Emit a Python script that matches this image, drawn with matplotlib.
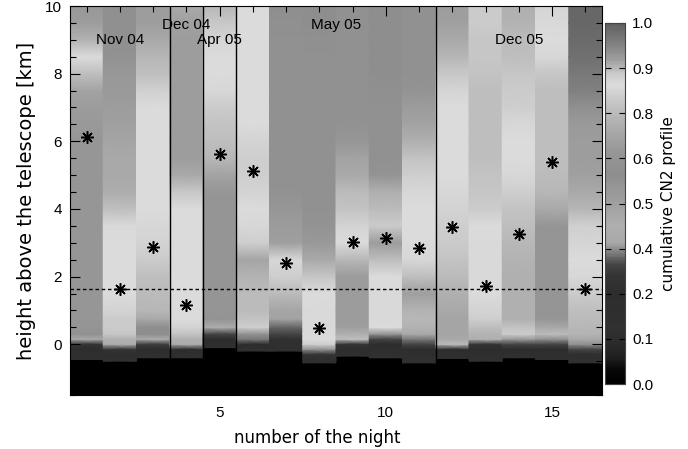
import numpy as np
import matplotlib
matplotlib.use("Agg")
import matplotlib.pyplot as plt
from matplotlib.colors import LinearSegmentedColormap
from matplotlib.ticker import FixedLocator, MultipleLocator

plt.rcParams['font.family'] = ['Liberation Sans', 'DejaVu Sans']

# ---- data -------------------------------------------------------------
nights = list(range(1, 17))

# height grid of the profiles [km above the telescope]
levels_km = [-0.45, -0.3, -0.15, 0.0, 0.15, 0.3, 0.5, 0.75,
             1.0, 1.5, 2.0, 2.5, 3.0, 3.5, 4.0, 4.5, 5.0, 5.5,
             6.0, 6.5, 7.0, 7.5, 8.0, 8.5, 9.0, 9.5, 10.0]

# lowest height of each night's profile
base_km = [-0.45, -0.5, -0.4, -0.4, -0.1, -0.2, -0.2, -0.55,
           -0.35, -0.4, -0.55, -0.42, -0.5, -0.4, -0.45, -0.55]

nan = float('nan')
# cumulative CN2 profile of each night on levels_km
cn2_night01 = [0.15, 0.2, 0.25, 0.3, 0.4, 0.6, 0.63, 0.64, 0.64, 0.64, 0.64, 0.64, 0.64, 0.64,
               0.64, 0.64, 0.64, 0.64, 0.64, 0.65, 0.66, 0.68, 0.76, 0.83, 0.88, 0.9, 0.91]
cn2_night02 = [0.15, 0.2, 0.3, 0.45, 0.72, 0.78, 0.79, 0.79, 0.81, 0.83, 0.83, 0.83, 0.83, 0.835,
               0.87, 0.885, 0.89, 0.89, 0.893, 0.895, 0.9, 0.905, 0.91, 0.915, 0.918, 0.92, 0.92]
cn2_night03 = [nan, 0.2, 0.25, 0.32, 0.42, 0.58, 0.58, 0.7, 0.74, 0.75, 0.76, 0.79, 0.81, 0.82,
               0.83, 0.83, 0.83, 0.83, 0.83, 0.83, 0.83, 0.85, 0.87, 0.875, 0.89, 0.9, 0.9]
cn2_night04 = [nan, 0.2, 0.25, 0.42, 0.72, 0.77, 0.81, 0.83, 0.83, 0.83, 0.83, 0.83, 0.83, 0.83,
               0.83, 0.86, 0.89, 0.9, 0.9, 0.9, 0.9, 0.9, 0.9, 0.9, 0.9, 0.895, 0.89]
cn2_night05 = [nan, nan, nan, 0.2, 0.25, 0.33, 0.42, 0.62, 0.63, 0.63, 0.63, 0.63, 0.63, 0.63,
               0.63, 0.64, 0.68, 0.74, 0.76, 0.77, 0.79, 0.82, 0.83, 0.83, 0.84, 0.86, 0.875]
cn2_night06 = [nan, nan, 0.15, 0.25, 0.36, 0.6, 0.8, 0.77, 0.75, 0.75, 0.73, 0.69, 0.8, 0.82,
               0.83, 0.81, 0.8, 0.8, 0.81, 0.83, 0.83, 0.83, 0.83, 0.83, 0.83, 0.83, 0.83]
cn2_night07 = [nan, nan, 0.15, 0.2, 0.28, 0.33, 0.35, 0.68, 0.69, 0.75, 0.8, 0.82, 0.67, 0.66,
               0.64, 0.61, 0.6, 0.6, 0.6, 0.6, 0.6, 0.6, 0.6, 0.6, 0.6, 0.59, 0.58]
cn2_night08 = [0.2, 0.3, 0.6, 0.8, 0.83, 0.835, 0.835, 0.835, 0.835, 0.83, 0.78, 0.7, 0.65, 0.62,
               0.6, 0.6, 0.6, 0.6, 0.6, 0.6, 0.6, 0.6, 0.6, 0.6, 0.59, 0.58, 0.58]
cn2_night09 = [nan, 0.2, 0.22, 0.3, 0.76, 0.72, 0.67, 0.66, 0.66, 0.66, 0.66, 0.74, 0.83, 0.81,
               0.77, 0.75, 0.7, 0.68, 0.64, 0.61, 0.6, 0.6, 0.6, 0.6, 0.6, 0.6, 0.6]
cn2_night10 = [nan, 0.15, 0.2, 0.25, 0.33, 0.62, 0.83, 0.835, 0.835, 0.835, 0.83, 0.76, 0.66, 0.79,
               0.75, 0.72, 0.62, 0.6, 0.6, 0.6, 0.6, 0.59, 0.58, 0.58, 0.58, 0.58, 0.58]
cn2_night11 = [0.15, 0.2, 0.25, 0.33, 0.36, 0.7, 0.73, 0.74, 0.73, 0.67, 0.76, 0.82, 0.83, 0.83,
               0.83, 0.82, 0.8, 0.77, 0.72, 0.68, 0.66, 0.62, 0.6, 0.6, 0.6, 0.6, 0.6]
cn2_night12 = [nan, 0.2, 0.25, 0.75, 0.7, 0.69, 0.69, 0.69, 0.7, 0.72, 0.75, 0.77, 0.79, 0.8,
               0.81, 0.82, 0.83, 0.83, 0.83, 0.83, 0.83, 0.84, 0.86, 0.875, 0.89, 0.895, 0.9]
cn2_night13 = [0.15, 0.2, 0.25, 0.3, 0.72, 0.73, 0.76, 0.8, 0.81, 0.83, 0.835, 0.835, 0.835, 0.83,
               0.79, 0.78, 0.77, 0.76, 0.76, 0.76, 0.76, 0.76, 0.77, 0.78, 0.78, 0.79, 0.79]
cn2_night14 = [nan, 0.2, 0.25, 0.33, 0.65, 0.79, 0.77, 0.72, 0.72, 0.72, 0.72, 0.73, 0.74, 0.76,
               0.77, 0.8, 0.82, 0.83, 0.83, 0.82, 0.8, 0.79, 0.78, 0.76, 0.75, 0.73, 0.72]
cn2_night15 = [0.15, 0.2, 0.25, 0.33, 0.6, 0.75, 0.7, 0.64, 0.63, 0.63, 0.63, 0.63, 0.63, 0.63,
               0.7, 0.74, 0.75, 0.76, 0.76, 0.76, 0.76, 0.76, 0.78, 0.82, 0.83, 0.835, 0.84]
cn2_night16 = [0.15, 0.2, 0.33, 0.6, 0.7, 0.73, 0.74, 0.75, 0.76, 0.79, 0.82, 0.83, 0.84, 0.85,
               0.875, 0.89, 0.895, 0.9, 0.9, 0.905, 0.92, 0.945, 0.955, 0.97, 0.98, 0.985, 0.985]

cn2_profiles = [cn2_night01, cn2_night02, cn2_night03, cn2_night04, cn2_night05, cn2_night06,
                cn2_night07, cn2_night08, cn2_night09, cn2_night10, cn2_night11, cn2_night12,
                cn2_night13, cn2_night14, cn2_night15, cn2_night16]

# height of the marked level of each night [km]
marked_height_km = [6.12, 1.63, 2.87, 1.15, 5.62, 5.12, 2.4, 0.47,
                    3.02, 3.13, 2.84, 3.48, 1.71, 3.25, 5.4, 1.63]

reference_height_km = 1.62

campaign_edges = [3.5, 4.5, 5.5, 11.5]
campaign_names = ["Nov 04", "Dec 04", "Apr 05", "May 05", "Dec 05"]
campaign_label_x = [2.0, 4.0, 5.0, 8.5, 14.0]
campaign_label_y = [9.0, 9.45, 9.0, 9.45, 9.0]

# grey levels of the colour table (position, grey 0-255)
grey_table = [(0.00, 0), (0.04, 8), (0.07, 30), (0.10, 40), (0.15, 48), (0.25, 45),
              (0.30, 52), (0.33, 68), (0.36, 120), (0.39, 168), (0.44, 175), (0.50, 160),
              (0.58, 142), (0.64, 150), (0.70, 168), (0.75, 186), (0.80, 206), (0.83, 220),
              (0.86, 203), (0.90, 158), (0.95, 125), (1.00, 96)]

# ---- figure -----------------------------------------------------------
cmap = LinearSegmentedColormap.from_list(
    "cn2grey", [(p, (g / 255.0, g / 255.0, g / 255.0)) for p, g in grey_table])

W, H = 688, 449
fig = plt.figure(figsize=(W / 100, H / 100), dpi=100)
ax = fig.add_axes([70 / W, 54 / H, 532 / W, 389 / H])
ax.set_facecolor("black")

lev = np.array(levels_km)
for night, prof, base in zip(nights, cn2_profiles, base_km):
    vals = np.array(prof, dtype=float)
    ok = np.isfinite(vals)
    y = lev[ok]
    c = vals[ok]
    if y[0] > base:
        y = np.concatenate([[base], y])
        c = np.concatenate([[c[0]], c])
    X = np.column_stack([np.full_like(y, night - 0.5), np.full_like(y, night + 0.5)])
    Y = np.column_stack([y, y])
    C = np.column_stack([c, c])
    ax.pcolormesh(X, Y, C, shading="gouraud", cmap=cmap, vmin=0, vmax=1)

for xe in campaign_edges:
    ax.axvline(xe, color="black", lw=1.0)

ax.axhline(reference_height_km, color="black", lw=1.0, ls=(0, (2.5, 2)))

ax.plot(nights, marked_height_km, ls="none", marker=(8, 2, 0), ms=9,
        mew=1.1, color="black", zorder=5)

for name, lx, ly in zip(campaign_names, campaign_label_x, campaign_label_y):
    ax.text(lx, ly, name, ha="center", va="center", fontsize=11, color="black")

ax.set_xlim(0.5, 16.5)
ax.set_ylim(-1.5, 10)
ax.xaxis.set_major_locator(FixedLocator([5, 10, 15]))
ax.xaxis.set_minor_locator(MultipleLocator(1))
ax.yaxis.set_major_locator(MultipleLocator(2))
ax.yaxis.set_minor_locator(MultipleLocator(0.5))
ax.tick_params(which="both", direction="in", top=True, right=True, color="black")
ax.tick_params(which="major", length=7, width=0.8, labelsize=11)
ax.tick_params(which="minor", length=4, width=0.8)
ax.tick_params(axis="x", pad=8)
ax.tick_params(axis="y", pad=6)
for sp in ax.spines.values():
    sp.set_linewidth(0.8)

ax.set_xlabel("number of the night", fontsize=12, family=["DejaVu Sans"])
ax.set_ylabel("height above the telescope [km]", fontsize=14, family=["DejaVu Sans"])
ax.xaxis.set_label_coords(0.464, -0.088)
ax.yaxis.set_label_coords(-0.064, 0.5)

# colour bar
cax = fig.add_axes([605 / W, (H - 384) / H, 20 / W, 361 / H])
sm = plt.cm.ScalarMappable(cmap=cmap, norm=plt.Normalize(0, 1))
cb = fig.colorbar(sm, cax=cax, ticks=np.arange(0, 1.0001, 0.125), format="%.1f")
cb.outline.set_linewidth(0.8)
cb.outline.set_edgecolor("#444444")
cax.tick_params(direction="in", length=4, width=0.8, labelsize=11, pad=5,
                left=True, right=True, color="black")
cb.set_label("cumulative CN2 profile", fontsize=11, family=["DejaVu Sans"])
cax.yaxis.set_label_coords(2.8, 0.5)

fig.savefig("out.png", dpi=100)
